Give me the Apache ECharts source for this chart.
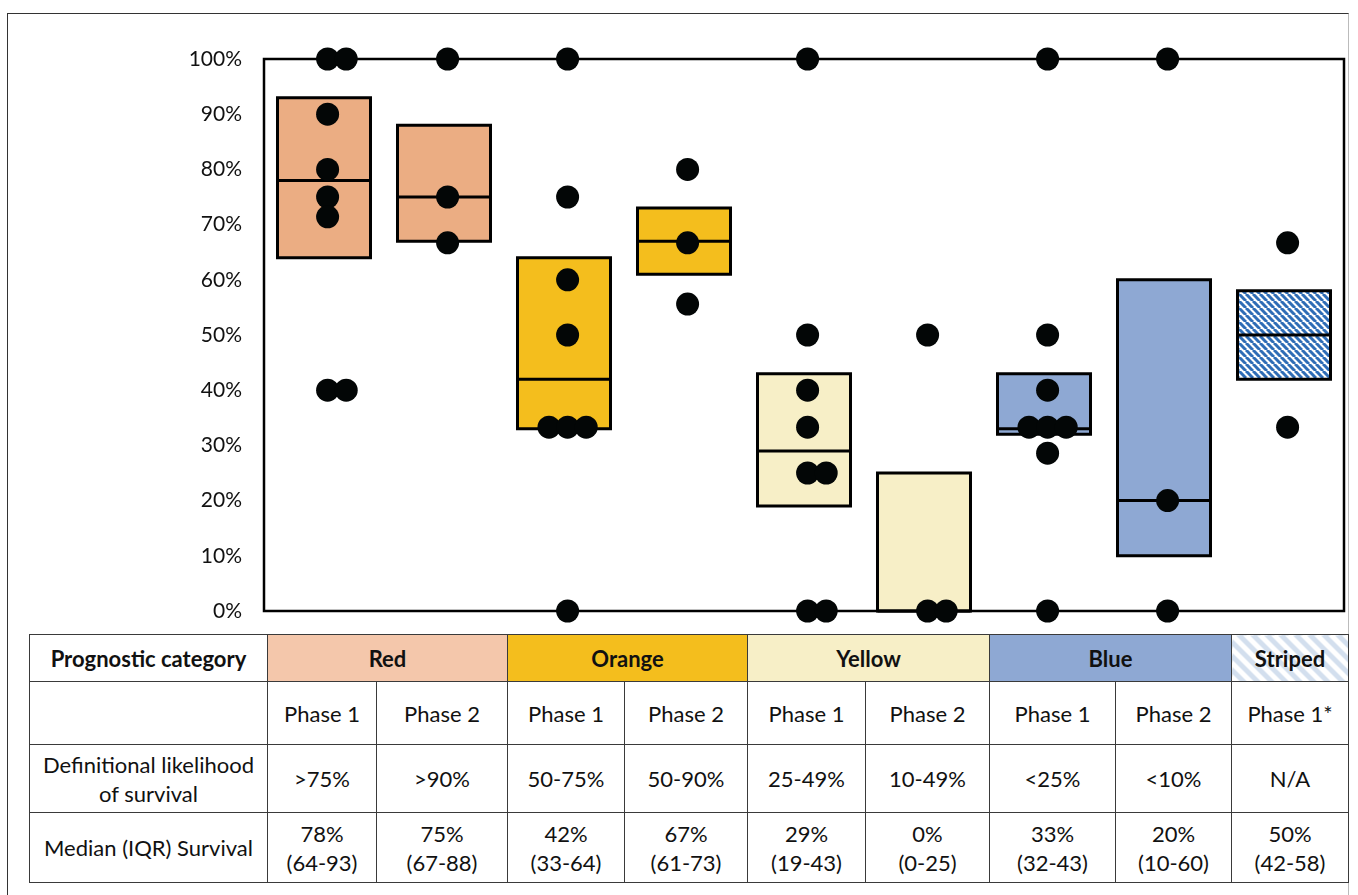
<!DOCTYPE html>
<html>
<head>
<meta charset="utf-8">
<script src="https://cdn.jsdelivr.net/npm/echarts@6/dist/echarts.min.js"></script>
<style>
  html, body { margin: 0; padding: 0; background: #fff; }
  #page { position: relative; width: 1358px; height: 895px; overflow: hidden; font-family: Lato, "Open Sans", sans-serif; }
  #frame { position: absolute; left: 7px; top: 13px; width: 1342px; height: 900px;
           border-left: 1.5px solid #333; border-top: 1.5px solid #333; border-right: 1.5px solid #bbb; box-sizing: border-box; }
  #chart { position: absolute; left: 0; top: 0; width: 1358px; height: 634px; }
  #tbl { position: absolute; left: 29px; top: 634px; border-collapse: collapse; table-layout: fixed;
         font-family: Lato, "Open Sans", sans-serif; font-size: 22px; color: #111; }
  #tbl td { border: 1.5px solid #3a3a3a; text-align: center; vertical-align: middle; padding: 0; line-height: 29px; }
  #tbl tr.head td { font-weight: bold; }
</style>
</head>
<body>
<div id="page">
  <div id="frame"></div>
  <div id="chart"></div>
  <table id="tbl"></table>
</div>
<script>
// Prognostic groups and their phases
const groupNames = ['Red', 'Orange', 'Yellow', 'Blue', 'Striped'];
const groupSpans = [2, 2, 2, 2, 1];
const phaseLabels = ['Phase 1', 'Phase 2', 'Phase 1', 'Phase 2', 'Phase 1', 'Phase 2', 'Phase 1', 'Phase 2', 'Phase 1*'];
const likelihood = ['>75%', '>90%', '50-75%', '50-90%', '25-49%', '10-49%', '<25%', '<10%', 'N/A'];

// Median and interquartile range of survival (%)
const medians = [78, 75, 42, 67, 29, 0, 33, 20, 50];
const q1 = [64, 67, 33, 61, 19, 0, 32, 10, 42];
const q3 = [93, 88, 64, 73, 43, 25, 43, 60, 58];

// Individual survival values (%) per phase
const redP1 = [100, 100, 90, 80, 75, 71.4, 40, 40];
const redP2 = [100, 75, 66.7];
const orangeP1 = [100, 75, 60, 50, 33.3, 33.3, 33.3, 0];
const orangeP2 = [80, 66.7, 55.6];
const yellowP1 = [100, 50, 40, 33.3, 25, 25, 0, 0];
const yellowP2 = [50, 0, 0];
const blueP1 = [100, 50, 40, 33.3, 33.3, 33.3, 28.6, 0];
const blueP2 = [100, 20, 0];
const stripedP1 = [66.7, 33.3];
const survival = [redP1, redP2, orangeP1, orangeP2, yellowP1, yellowP2, blueP1, blueP2, stripedP1];

const yTicks = [0, 10, 20, 30, 40, 50, 60, 70, 80, 90, 100];

// Colours
const RED = '#EBAD83', ORANGE = '#F4BE1D', YELLOW = '#F7EFC7', BLUE = '#8EA8D3';
const headFills = ['#F4C7AB', ORANGE, YELLOW, BLUE, null];

function stripes(size, width, fg, bg) {
  const c = document.createElement('canvas');
  c.width = size; c.height = size;
  const g = c.getContext('2d');
  g.fillStyle = bg; g.fillRect(0, 0, size, size);
  g.strokeStyle = fg; g.lineWidth = width;
  for (let k = -1; k <= 1; k++) {
    g.beginPath();
    g.moveTo(k * size, 0);
    g.lineTo(k * size + size, size);
    g.stroke();
  }
  return c;
}
const stripeFill = { image: stripes(7, 3, '#2F6DB6', '#ffffff'), repeat: 'repeat' };
const boxFills = [RED, RED, ORANGE, ORANGE, YELLOW, YELLOW, BLUE, BLUE, stripeFill];

const BOX_W = 0.775;   // box width in category units
const STEP = 0.155;    // horizontal spread for repeated values
const SHIFT = 0.03;

// Spread equal values sideways so every point stays visible
const dots = [];
survival.forEach((vals, i) => {
  const counts = {};
  vals.forEach(v => { counts[v] = (counts[v] || 0) + 1; });
  const seen = {};
  vals.forEach(v => {
    const k = seen[v] || 0; seen[v] = k + 1;
    const off = k - Math.floor((counts[v] - 1) / 2);
    dots.push([i + 0.5 + SHIFT + off * STEP, v]);
  });
});

const boxes = medians.map((m, i) => [i, q1[i], m, q3[i]]);

function renderBox(params, api) {
  const i = api.value(0);
  const lo = api.value(1), mid = api.value(2), hi = api.value(3);
  const tl = api.coord([i + 0.5 - BOX_W / 2, hi]);
  const br = api.coord([i + 0.5 + BOX_W / 2, lo]);
  const ml = api.coord([i + 0.5 - BOX_W / 2, mid]);
  const mr = api.coord([i + 0.5 + BOX_W / 2, mid]);
  return {
    type: 'group',
    children: [
      { type: 'rect', shape: { x: tl[0], y: tl[1], width: br[0] - tl[0], height: br[1] - tl[1] },
        style: { fill: boxFills[i], stroke: '#000', lineWidth: 3 } },
      { type: 'line', shape: { x1: ml[0], y1: ml[1], x2: mr[0], y2: mr[1] },
        style: { stroke: '#000', lineWidth: 3 } }
    ]
  };
}

const chart = echarts.init(document.getElementById('chart'), null, { renderer: 'canvas' });
chart.setOption({
  animation: false,
  grid: { left: 264, top: 59, width: 1080, height: 552, show: true, borderColor: '#000', borderWidth: 2.5, backgroundColor: 'transparent' },
  xAxis: { type: 'value', min: 0, max: phaseLabels.length, show: false },
  yAxis: {
    type: 'value', min: yTicks[0], max: yTicks[yTicks.length - 1], interval: 10,
    axisLine: { show: false }, axisTick: { show: false }, splitLine: { show: false },
    axisLabel: { formatter: '{value}%', margin: 22, color: '#111', fontSize: 21, fontFamily: 'Lato' }
  },
  series: [
    { type: 'custom', data: boxes, renderItem: renderBox, clip: false, z: 2 },
    { type: 'scatter', data: dots, symbol: 'circle', symbolSize: 23, clip: false, z: 3,
      itemStyle: { color: '#030606', opacity: 1 } }
  ]
});

// Summary table
const tbl = document.getElementById('tbl');
const colWidths = [238, 109, 131, 117, 123, 118, 124, 126, 116, 117];
const cg = document.createElement('colgroup');
colWidths.forEach(w => { const c = document.createElement('col'); c.style.width = w + 'px'; cg.appendChild(c); });
tbl.appendChild(cg);
tbl.style.width = colWidths.reduce((a, b) => a + b, 0) + 'px';

function row(h, cls) { const r = tbl.insertRow(); r.style.height = h + 'px'; if (cls) r.className = cls; return r; }
function cell(r, html, span) { const c = r.insertCell(); c.innerHTML = html; if (span) c.colSpan = span; return c; }

const r0 = row(47, 'head');
cell(r0, 'Prognostic category');
groupNames.forEach((g, j) => {
  const c = cell(r0, g, groupSpans[j]);
  if (headFills[j]) c.style.background = headFills[j];
  else c.style.background = 'repeating-linear-gradient(45deg, #ffffff 0px, #ffffff 5px, #D3DFEE 5px, #D3DFEE 10px)';
});
const r1 = row(63);
cell(r1, '');
phaseLabels.forEach(p => cell(r1, p));
const r2 = row(68);
cell(r2, 'Definitional likelihood<br>of survival');
likelihood.forEach(l => cell(r2, l));
const r3 = row(70);
cell(r3, 'Median (IQR) Survival');
medians.forEach((m, i) => cell(r3, m + '%<br>(' + q1[i] + '-' + q3[i] + ')'));
</script>
</body>
</html>
